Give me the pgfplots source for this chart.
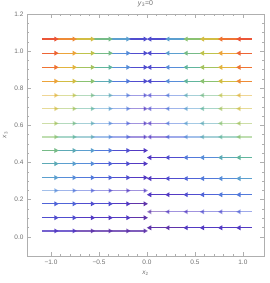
\documentclass[border=0pt]{standalone}
\usepackage{pgfplots}
\pgfplotsset{compat=1.18}
\usepackage{fontspec}
\setmainfont{Liberation Sans}
\definecolor{tickgray}{RGB}{110,110,110}
\definecolor{framegray}{RGB}{175,175,175}
\definecolor{C0}{RGB}{107,45,145}
\definecolor{C1}{RGB}{80,60,200}
\definecolor{C2}{RGB}{80,110,220}
\definecolor{C3}{RGB}{90,155,215}
\definecolor{C4}{RGB}{95,180,160}
\definecolor{C5}{RGB}{140,195,110}
\definecolor{C6}{RGB}{200,195,70}
\definecolor{C7}{RGB}{235,175,60}
\definecolor{C8}{RGB}{240,120,50}
\definecolor{C9}{RGB}{235,85,55}
\colorlet{q0}{C0}
\colorlet{q1}{C1!45!C0}
\colorlet{q2}{C1!90!C0}
\colorlet{q3}{C2!35!C1}
\colorlet{q4}{C2!80!C1}
\colorlet{q5}{C3!25!C2}
\colorlet{q6}{C3!70!C2}
\colorlet{q7}{C4!15!C3}
\colorlet{q8}{C4!60!C3}
\colorlet{q9}{C5!5!C4}
\colorlet{q10}{C5!50!C4}
\colorlet{q11}{C5!95!C4}
\colorlet{q12}{C6!40!C5}
\colorlet{q13}{C6!85!C5}
\colorlet{q14}{C7!30!C6}
\colorlet{q15}{C7!75!C6}
\colorlet{q16}{C8!20!C7}
\colorlet{q17}{C8!65!C7}
\colorlet{q18}{C9!10!C8}
\colorlet{q19}{C9!55!C8}
\colorlet{q20}{C9}
% one streamline segment: #1 options, #2 x start, #3 x end, #4 y, #5 colour index, #6 arrow index, #7 arrow rotation
\newcommand\seg[7]{%
 \addplot[draw=q#5, line width=1.3pt, mark=triangle*, mark indices={#6}, mark size=1.6pt,
   mark options={rotate=#7, fill=q#5, draw=none, solid}, #1] coordinates {(#2,#4) (#3,#4)};}
% left streamline (flows right): #1 options, #2 y, #3..#8 colour indices of the six segments
\newcommand\lineL[8][]{%
 \seg{#1}{-1.094}{-0.95}{#2}{#3}{2}{-90}
 \seg{#1}{-0.95}{-0.76}{#2}{#4}{2}{-90}
 \seg{#1}{-0.76}{-0.57}{#2}{#5}{2}{-90}
 \seg{#1}{-0.57}{-0.385}{#2}{#6}{2}{-90}
 \seg{#1}{-0.385}{-0.2}{#2}{#7}{2}{-90}
 \seg{#1}{-0.2}{-0.02}{#2}{#8}{2}{-90}}
% right streamline (flows left)
\newcommand\lineR[8][]{%
 \seg{#1}{0.03}{0.22}{#2}{#3}{1}{90}
 \seg{#1}{0.22}{0.41}{#2}{#4}{1}{90}
 \seg{#1}{0.41}{0.58}{#2}{#5}{1}{90}
 \seg{#1}{0.58}{0.77}{#2}{#6}{1}{90}
 \seg{#1}{0.77}{0.96}{#2}{#7}{1}{90}
 \seg{#1}{0.96}{1.10}{#2}{#8}{1}{90}}
\begin{document}
\begin{tikzpicture}
\begin{axis}[
 scale only axis, width=237bp, height=242bp,
 xmin=-1.25, xmax=1.22, ymin=-0.103, ymax=1.2,
 axis line style={framegray, line width=0.6pt},
 tick align=inside,
 xtick={-1,-0.5,0,0.5,1}, xticklabels={−1.0,−0.5,0.0,0.5,1.0},
 ytick={0,0.2,0.4,0.6,0.8,1.0,1.2}, yticklabels={0.0,0.2,0.4,0.6,0.8,1.0,1.2},
 minor x tick num=4, minor y tick num=3,
 major tick length=4bp, minor tick length=2bp,
 tick style={framegray, line width=0.5pt},
 ticklabel style={font=\fontsize{6.5}{7}\selectfont, text=tickgray},
 xlabel={\textit{x}\textsubscript{2}}, ylabel={\textit{x}\textsubscript{3}},
 label style={font=\fontsize{6.5}{7}\selectfont, text=tickgray},
 title={\textit{y}\textsubscript{3}=0},
 title style={font=\fontsize{7}{8}\selectfont, text=tickgray, yshift=-2bp},
]
\lineL{1.065}{20}{17}{14}{10}{7}{3}
\lineL{0.989}{19}{16}{13}{10}{6}{3}
\lineL{0.913}{18}{15}{12}{9}{6}{3}
\lineL{0.838}{16}{14}{11}{8}{5}{3}
\lineL[opacity=0.55]{0.762}{15}{13}{10}{8}{5}{3}
\lineL[opacity=0.55]{0.690}{14}{12}{9}{7}{5}{2}
\lineL[opacity=0.55]{0.611}{12}{10}{8}{6}{4}{2}
\lineL[opacity=0.55]{0.538}{11}{9}{8}{6}{4}{2}
\lineL{0.465}{10}{8}{7}{5}{3}{2}
\lineL{0.394}{8}{7}{6}{4}{3}{2}
\lineL{0.319}{7}{6}{5}{4}{3}{2}
\lineL[opacity=0.55]{0.249}{6}{5}{4}{3}{2}{2}
\lineL{0.178}{4}{4}{3}{3}{2}{1}
\lineL{0.103}{3}{3}{2}{2}{2}{1}
\lineL[opacity=0.8]{0.032}{2}{2}{1}{1}{1}{1}
\lineR{1.065}{3}{7}{11}{14}{18}{20}
\lineR{0.989}{3}{7}{10}{13}{16}{19}
\lineR{0.913}{3}{6}{9}{12}{15}{18}
\lineR{0.838}{3}{6}{9}{11}{14}{17}
\lineR[opacity=0.55]{0.762}{3}{5}{8}{10}{13}{15}
\lineR[opacity=0.55]{0.690}{3}{5}{7}{9}{12}{14}
\lineR[opacity=0.55]{0.611}{2}{5}{7}{8}{11}{12}
\lineR[opacity=0.55]{0.538}{2}{4}{6}{8}{9}{11}
\lineR{0.427}{2}{3}{5}{6}{8}{9}
\lineR{0.314}{2}{3}{4}{5}{6}{7}
\lineR{0.227}{2}{2}{3}{4}{5}{5}
\lineR[opacity=0.55]{0.135}{1}{2}{2}{3}{3}{4}
\lineR{0.049}{1}{1}{2}{2}{2}{2}
\end{axis}
\pgfresetboundingbox
\path[use as bounding box] ([shift={(-27bp,-27bp)}]current axis.south west) rectangle ([shift={(6bp,14bp)}]current axis.north east);
\end{tikzpicture}
\end{document}
